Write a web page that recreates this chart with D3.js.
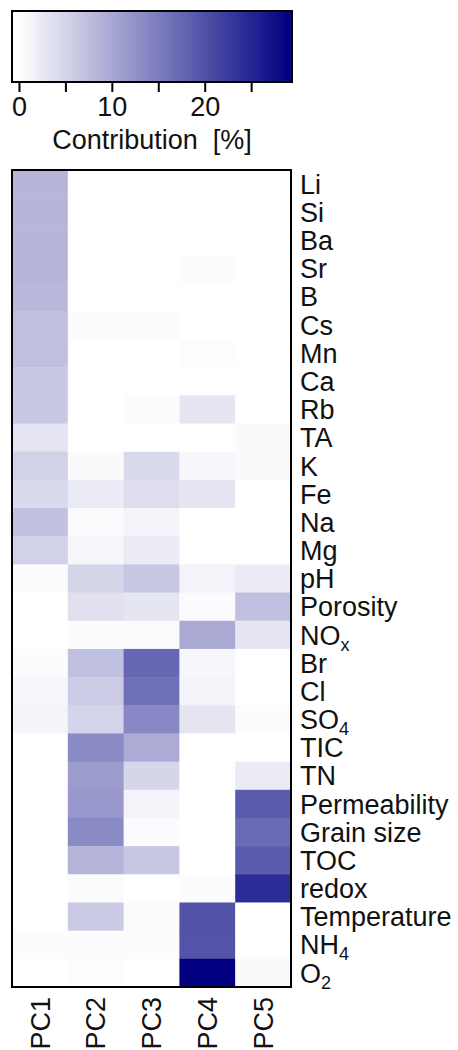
<!DOCTYPE html>
<html lang="en">
<head>
  <meta charset="UTF-8" />
  <title>PCA contribution heatmap</title>
  <script src="https://d3js.org/d3.v7.min.js"></script>
  <style>
    body {
      margin: 0;
      background: #fff;
      font-family: "Liberation Sans", Arial, sans-serif;
    }
    svg text {
      fill: #111;
    }
  </style>
</head>
<body>
  <svg width="458" height="1050"></svg>

  <script>
    // Variables (rows) and principal components (columns)
    const variables = ["Li", "Si", "Ba", "Sr", "B", "Cs", "Mn", "Ca", "Rb", "TA", "K", "Fe", "Na", "Mg", "pH",
      "Porosity", "NOx", "Br", "Cl", "SO4", "TIC", "TN", "Permeability", "Grain size", "TOC", "redox",
      "Temperature", "NH4", "O2"];
    const components = ["PC1", "PC2", "PC3", "PC4", "PC5"];

    // subscript parts for some labels
    const subscripts = { "NOx": ["NO", "x"], "SO4": ["SO", "4"], "NH4": ["NH", "4"], "O2": ["O", "2"] };

    // contribution [%] per component, same order as variables
    const pc1 = [8.4, 8.4, 8.4, 8.4, 8.2, 7.3, 7.3, 6.3, 6.3, 3.1, 5.3, 4.2, 7.2, 5.3, 0.3,
      0, 0, 0.4, 1.0, 1.3, 0, 0, 0, 0, 0, 0, 0, 0.3, 0];
    const pc2 = [0, 0, 0, 0, 0, 0.3, 0, 0, 0, 0, 0.6, 2.3, 0.5, 1.0, 4.7,
      3.6, 0.3, 7.2, 6.0, 4.9, 13.4, 11.5, 11.8, 13.5, 8.5, 0.5, 6.1, 0.3, 0.2];
    const pc3 = [0, 0, 0, 0, 0, 0.5, 0, 0, 0.3, 0, 4.2, 3.8, 1.4, 2.3, 6.3,
      2.9, 0.5, 17.5, 16.4, 13.7, 9.6, 4.7, 1.4, 0.5, 6.3, 0, 0.5, 0.3, 0];
    const pc4 = [0, 0, 0, 0.3, 0, 0, 0.2, 0, 2.9, 0, 1.0, 2.9, 0, 0, 1.4,
      0.5, 9.9, 1.0, 1.4, 2.9, 0, 0, 0, 0, 0, 0.3, 19.9, 19.8, 29.3];
    const pc5 = [0, 0, 0, 0, 0, 0, 0, 0, 0, 0.6, 0.6, 0, 0, 0, 2.3,
      7.2, 2.9, 0, 0, 0.3, 0, 2.3, 18.7, 17.1, 18.9, 24.3, 0, 0, 0.6];

    const colorTicks = [0, 5, 10, 15, 20, 25];
    const colorTickLabels = [0, 10, 20];
    const colorMax = 29.3;

    const svg = d3.select("svg");
    const fontSize = 27;

    const columns = [pc1, pc2, pc3, pc4, pc5];
    const cells = [];
    columns.forEach((col, ci) => {
      col.forEach((v, ri) => {
        cells.push({ pc: components[ci], variable: variables[ri], value: v });
      });
    });

    const color = d3.scaleLinear()
      .domain([0, colorMax])
      .range(["#ffffff", "#000080"])
      .clamp(true);

    // ---- colorbar ----
    const cb = { x0: 12, x1: 292, y0: 11, y1: 82 };
    const cbScale = d3.scaleLinear().domain([-0.75, 29.4]).range([cb.x0, cb.x1]);

    const defs = svg.append("defs");
    const grad = defs.append("linearGradient").attr("id", "cbGrad");
    d3.range(0, 1.0001, 0.02).forEach(t => {
      const v = cbScale.invert(cb.x0 + t * (cb.x1 - cb.x0));
      grad.append("stop").attr("offset", t).attr("stop-color", color(v));
    });

    svg.append("rect")
      .attr("x", cb.x0).attr("y", cb.y0)
      .attr("width", cb.x1 - cb.x0).attr("height", cb.y1 - cb.y0)
      .attr("fill", "url(#cbGrad)")
      .attr("stroke", "#000").attr("stroke-width", 2);

    const cbAxis = d3.axisBottom(cbScale)
      .tickValues(colorTicks)
      .tickSize(10)
      .tickFormat(d => colorTickLabels.includes(d) ? d : "");

    const cbG = svg.append("g")
      .attr("transform", `translate(0,${cb.y1})`)
      .call(cbAxis);
    cbG.select(".domain").remove();
    cbG.selectAll(".tick line").attr("stroke", "#000").attr("stroke-width", 2);
    cbG.selectAll(".tick text")
      .attr("y", 15)
      .attr("dy", "0.71em")
      .style("font-size", fontSize + "px")
      .style("font-family", "'Liberation Sans', Arial, sans-serif")
      .attr("fill", "#111");

    svg.append("text")
      .attr("x", (cb.x0 + cb.x1) / 2)
      .attr("y", 149)
      .attr("text-anchor", "middle")
      .style("font-size", fontSize + "px")
      .style("white-space", "pre")
      .text("Contribution  [%]");

    // ---- heatmap ----
    const hm = { x0: 12, x1: 291, y0: 170, y1: 987 };

    const x = d3.scaleBand().domain(components).range([hm.x0, hm.x1]);
    const y = d3.scaleBand().domain(variables).range([hm.y0, hm.y1]);

    svg.append("g")
      .selectAll("rect")
      .data(cells)
      .enter()
      .append("rect")
      .attr("x", d => x(d.pc))
      .attr("y", d => y(d.variable))
      .attr("width", x.bandwidth() + 0.5)
      .attr("height", y.bandwidth() + 0.5)
      .attr("fill", d => color(d.value));

    svg.append("rect")
      .attr("x", hm.x0).attr("y", hm.y0)
      .attr("width", hm.x1 - hm.x0).attr("height", hm.y1 - hm.y0)
      .attr("fill", "none")
      .attr("stroke", "#000").attr("stroke-width", 2);

    // row labels on the right
    const rowLabels = svg.append("g")
      .selectAll("text")
      .data(variables)
      .enter()
      .append("text")
      .attr("x", hm.x1 + 9)
      .attr("y", d => y(d) + y.bandwidth() / 2)
      .attr("dy", "0.36em")
      .style("font-size", fontSize + "px");

    rowLabels.each(function (d) {
      const t = d3.select(this);
      if (subscripts[d]) {
        t.append("tspan").text(subscripts[d][0]);
        t.append("tspan")
          .attr("dy", 6)
          .style("font-size", "18px")
          .text(subscripts[d][1]);
      } else {
        t.text(d);
      }
    });

    // column labels below, rotated
    svg.append("g")
      .selectAll("text")
      .data(components)
      .enter()
      .append("text")
      .attr("transform", d => `translate(${x(d) + x.bandwidth() / 2},${hm.y1 + 10}) rotate(-90)`)
      .attr("text-anchor", "end")
      .attr("dy", "0.36em")
      .style("font-size", fontSize + "px")
      .text(d => d);
  </script>
</body>
</html>
